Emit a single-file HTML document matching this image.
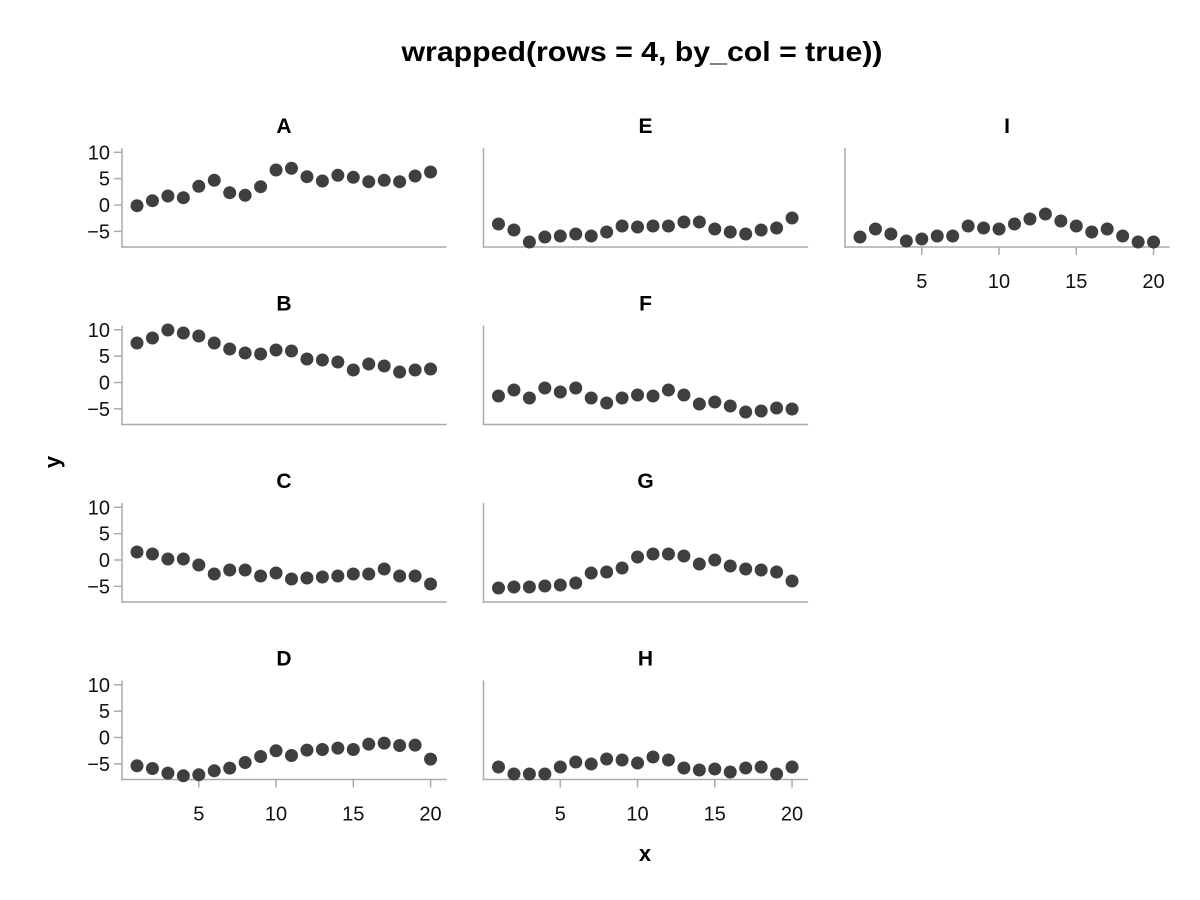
<!DOCTYPE html>
<html><head><meta charset="utf-8"><style>html,body{margin:0;padding:0;background:#fff}svg{display:block}text{font-family:"Liberation Sans",sans-serif}</style></head>
<body>
<svg id="s" width="1200" height="900" xmlns="http://www.w3.org/2000/svg">
<rect width="1200" height="900" fill="#fff"/>
<text x="642" y="61" font-size="28" font-weight="bold" text-anchor="middle" textLength="481" lengthAdjust="spacingAndGlyphs">wrapped(rows = 4, by_col = true))</text>
<text x="645" y="861" font-size="22" font-weight="bold" text-anchor="middle">x</text>
<text transform="translate(60,462) rotate(-90)" font-size="22" font-weight="bold" text-anchor="middle">y</text>
<g id="g"></g>
</svg>
<script>
var P={
A:[0,0,[0.7,-4.3,-9,-7.3,-18.7,-24.7,-12.3,-9.7,-18.3,-35,-36.7,-28.3,-24,-29.7,-27.7,-23.3,-24.7,-23.3,-29,-33]],
B:[0,1,[-39.5,-44.5,-52.5,-49.5,-46.5,-39.5,-33.5,-29.5,-28.5,-32.5,-31.5,-23.5,-22.5,-20.5,-12.5,-18.5,-16.5,-10.5,-12.5,-13.5]],
C:[0,2,[-8,-6,-1,-1,5,14,10,10,16,13,19,18,17,16,14,14,9,16,16,24]],
D:[0,3,[28.3,31,35.6,38.3,37.3,33.3,30.6,25,19,13.3,18,12.6,12,10.6,12,6.6,5.6,8,7.6,21.6]],
E:[1,0,[19,25,37,32,31,29,31,27,21,22,21,21,17,17,24,27,29,25,23,13]],
F:[1,1,[13.5,7.5,15.5,5.5,9.5,5.5,15.5,20.5,15.5,12.5,13.5,7.5,12.5,21.5,19.5,23.5,29.5,28.5,25.5,26.5]],
G:[1,2,[28,27,27,26,25,23,13,12,8,-3,-6,-6,-4,4,0,6,9,10,12,21]],
H:[1,3,[29.5,36.5,36.5,36.5,29.5,24.5,26.5,21.5,22.5,25.5,19.5,22.5,30.5,32.5,31.5,34.5,30.5,29.5,36.5,29.5]],
I:[2,0,[32,24,29,36,34,31,31,21,23,24,19,14,9,16,21,27,24,31,37,37]]};
var h='',ax='#aaaaaa';
for(var k in P){var c=P[k][0],r=P[k][1],d=P[k][2];
var ox=c*361.5,oy=r*177.5,L=122+ox,R=446.7+ox,B=247+oy,T=148+oy,z=205+oy;
h+='<text x="'+(284+ox)+'" y="'+(133+oy)+'" font-size="21" font-weight="bold" text-anchor="middle">'+k+'</text>';
h+='<line x1="'+L+'" y1="'+T+'" x2="'+L+'" y2="'+(B+0.75)+'" stroke="'+ax+'" stroke-width="1.5"/>';
h+='<line x1="'+(L-0.75)+'" y1="'+B+'" x2="'+R+'" y2="'+B+'" stroke="'+ax+'" stroke-width="1.5"/>';
if(c==0){[10,5,0,-5].forEach(function(v){var y=z-v*5.27;
h+='<line x1="'+(L-8)+'" y1="'+y+'" x2="'+L+'" y2="'+y+'" stroke="'+ax+'" stroke-width="1.5"/>';
h+='<text x="'+(L-12)+'" y="'+(y+7)+'" font-size="20" text-anchor="end" fill="#111">'+(v<0?'\u2212'+(-v):v)+'</text>';});}
if(r==3||k=='I'){[5,10,15,20].forEach(function(v){var x=L+15+(v-1)*15.45;
h+='<line x1="'+x+'" y1="'+B+'" x2="'+x+'" y2="'+(B+8)+'" stroke="'+ax+'" stroke-width="1.5"/>';
h+='<text x="'+x+'" y="'+(B+41)+'" font-size="20" text-anchor="middle" fill="#111">'+v+'</text>';});}
d.forEach(function(v,i){h+='<circle cx="'+(L+15+i*15.45)+'" cy="'+(z+v)+'" r="6.5" fill="#3f3f3f"/>';});}
document.getElementById('g').innerHTML=h;
</script>
</body></html>
